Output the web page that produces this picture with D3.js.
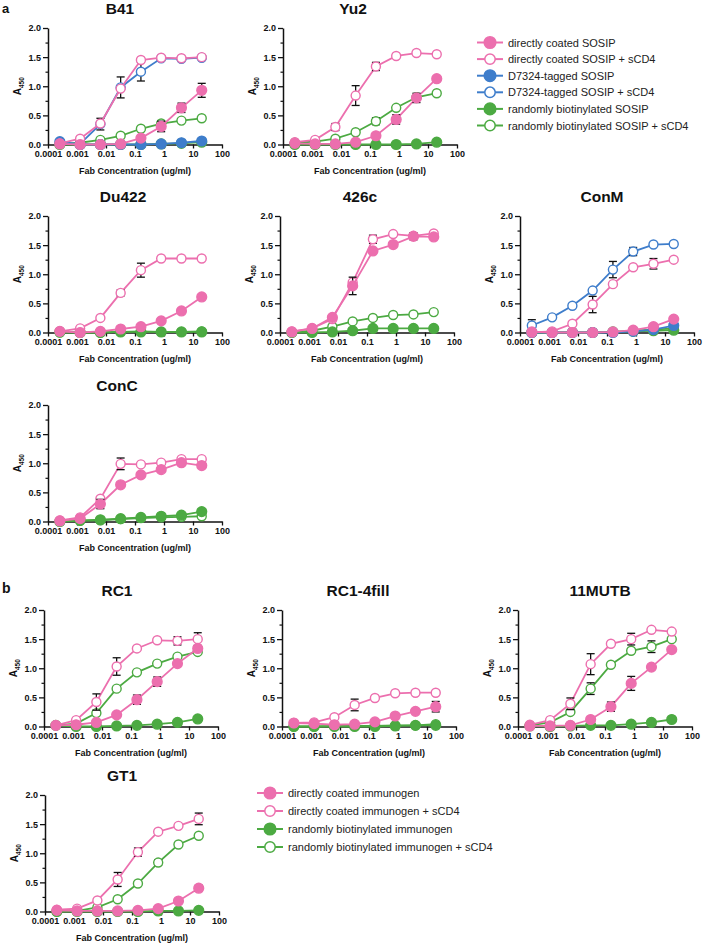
<!DOCTYPE html>
<html><head><meta charset="utf-8">
<script src="https://cdn.jsdelivr.net/npm/d3@7"></script>
<style>
body{margin:0;background:#fff}
svg{display:block}
text{font-family:"Liberation Sans",Arial,sans-serif}
</style>
</head><body><svg id="c" width="704" height="945"></svg>
<script>
// ---------- data ----------
const concentrations = [0.000256, 0.00128, 0.0064, 0.032, 0.16, 0.8, 4, 20];
const xTickValues = [0.0001, 0.001, 0.01, 0.1, 1, 10, 100];
const xTickLabels = ["0.0001", "0.001", "0.01", "0.1", "1", "10", "100"];
const yTickValues = [0, 0.5, 1.0, 1.5, 2.0];
const yMinorTicks = [0.25, 0.75, 1.25, 1.75];
const xAxisTitle = "Fab Concentration (ug/ml)";

const legendA = ["directly coated SOSIP", "directly coated SOSIP + sCD4", "D7324-tagged SOSIP", "D7324-tagged SOSIP + sCD4", "randomly biotinylated SOSIP", "randomly biotinylated SOSIP + sCD4"];
const legendB = ["directly coated immunogen", "directly coated immunogen + sCD4", "randomly biotinylated immunogen", "randomly biotinylated immunogen + sCD4"];
const seriesKeys = ["dc", "dcS", "tag", "tagS", "bio", "bioS"];

// B41
const B41_dc = [0.01, 0.00, 0.00, 0.01, 0.11, 0.31, 0.63, 0.93];
const B41_dc_err = [0, 0, 0, 0, 0, 0.09, 0.08, 0.12];
const B41_dcS = [0.02, 0.10, 0.36, 0.96, 1.45, 1.49, 1.48, 1.50];
const B41_tag = [0.05, 0.00, 0.00, 0.00, 0.00, 0.01, 0.03, 0.06];
const B41_tagS = [0.02, 0.01, 0.35, 0.98, 1.25, 1.48, 1.47, 1.49];
const B41_tagS_err = [0, 0, 0.10, 0.18, 0.16, 0, 0, 0];
const B41_bio = [0.00, 0.00, 0.00, 0.00, 0.00, 0.01, 0.02, 0.04];
const B41_bioS = [0.01, 0.03, 0.08, 0.15, 0.27, 0.36, 0.41, 0.45];
// Yu2
const Yu2_dc = [0.02, 0.01, 0.01, 0.04, 0.15, 0.43, 0.80, 1.13];
const Yu2_dc_err = [0, 0, 0, 0, 0, 0.08, 0.08, 0];
const Yu2_dcS = [0.04, 0.08, 0.30, 0.84, 1.34, 1.52, 1.57, 1.55];
const Yu2_dcS_err = [0, 0, 0.06, 0.17, 0.07, 0, 0, 0];
const Yu2_bio = [0.00, 0.00, 0.00, 0.00, 0.00, 0.00, 0.01, 0.04];
const Yu2_bioS = [0.03, 0.05, 0.10, 0.21, 0.40, 0.63, 0.81, 0.88];
const Yu2_bioS_err = [0, 0, 0, 0, 0.06, 0, 0, 0];
// Du422
const Du422_dc = [0.02, 0.00, 0.02, 0.06, 0.10, 0.20, 0.37, 0.61];
const Du422_dcS = [0.02, 0.07, 0.25, 0.68, 1.07, 1.27, 1.27, 1.27];
const Du422_dcS_err = [0, 0, 0, 0.05, 0.12, 0, 0, 0];
const Du422_bio = [0.01, 0.00, 0.00, 0.01, 0.01, 0.01, 0.01, 0.01];
const Du422_bioS = [0.00, 0.00, 0.00, 0.01, 0.02, 0.01, 0.01, 0.02];
// 426c
const c426_dc = [0.01, 0.07, 0.26, 0.80, 1.40, 1.51, 1.65, 1.64];
const c426_dc_err = [0, 0, 0, 0.15, 0, 0, 0.06, 0];
const c426_dcS = [0.02, 0.07, 0.23, 0.86, 1.60, 1.69, 1.66, 1.70];
const c426_dcS_err = [0, 0, 0, 0, 0.07, 0, 0, 0];
const c426_bio = [0.00, 0.00, 0.01, 0.03, 0.07, 0.07, 0.07, 0.07];
const c426_bioS = [0.00, 0.03, 0.10, 0.19, 0.25, 0.30, 0.31, 0.35];
// ConM
const ConM_dc = [0.01, 0.00, 0.00, 0.00, 0.01, 0.04, 0.10, 0.23];
const ConM_dcS = [0.00, 0.02, 0.15, 0.48, 0.83, 1.12, 1.18, 1.25];
const ConM_dcS_err = [0, 0, 0, 0.14, 0, 0, 0.09, 0];
const ConM_tag = [0.00, 0.00, 0.00, 0.00, 0.00, 0.02, 0.05, 0.12];
const ConM_tagS = [0.12, 0.26, 0.46, 0.72, 1.08, 1.39, 1.51, 1.52];
const ConM_tagS_err = [0.10, 0, 0, 0, 0.14, 0.07, 0, 0];
const ConM_bio = [0.00, 0.00, 0.00, 0.00, 0.01, 0.02, 0.03, 0.04];
const ConM_bioS = [0.00, 0.00, 0.00, 0.00, 0.01, 0.03, 0.05, 0.07];
// ConC
const ConC_dc = [0.01, 0.05, 0.30, 0.63, 0.80, 0.89, 1.01, 0.96];
const ConC_dc_err = [0, 0, 0.08, 0, 0, 0, 0, 0];
const ConC_dcS = [0.02, 0.07, 0.39, 0.99, 0.98, 1.01, 1.07, 1.07];
const ConC_dcS_err = [0, 0, 0, 0.10, 0, 0, 0, 0];
const ConC_bio = [0.00, 0.02, 0.03, 0.05, 0.07, 0.09, 0.11, 0.17];
const ConC_bioS = [0.00, 0.01, 0.02, 0.04, 0.06, 0.07, 0.08, 0.09];
// RC1
const RC1_dc = [0.02, 0.03, 0.07, 0.20, 0.46, 0.77, 1.08, 1.34];
const RC1_dc_err = [0, 0, 0, 0, 0.08, 0.08, 0, 0.05];
const RC1_dcS = [0.02, 0.11, 0.42, 1.03, 1.34, 1.48, 1.47, 1.50];
const RC1_dcS_err = [0, 0, 0.14, 0.15, 0, 0, 0.07, 0.11];
const RC1_bio = [0.02, 0.00, 0.00, 0.01, 0.02, 0.04, 0.07, 0.13];
const RC1_bioS = [0.02, 0.05, 0.23, 0.65, 0.93, 1.08, 1.20, 1.28];
// RC1-4fill
const RC14_dc = [0.06, 0.05, 0.03, 0.04, 0.08, 0.18, 0.26, 0.34];
const RC14_dc_err = [0, 0, 0, 0, 0, 0, 0, 0.09];
const RC14_dcS = [0.06, 0.07, 0.16, 0.37, 0.49, 0.57, 0.58, 0.58];
const RC14_dcS_err = [0, 0, 0, 0.10, 0, 0, 0, 0];
const RC14_bio = [0.00, 0.00, 0.00, 0.00, 0.00, 0.01, 0.02, 0.02];
const RC14_bioS = [0.00, 0.00, 0.01, 0.01, 0.01, 0.02, 0.02, 0.04];
// 11MUTB
const M11_dc = [0.01, 0.01, 0.02, 0.12, 0.34, 0.74, 1.02, 1.32];
const M11_dc_err = [0, 0, 0, 0, 0.08, 0.12, 0, 0];
const M11_dcS = [0.03, 0.11, 0.39, 1.07, 1.42, 1.50, 1.66, 1.63];
const M11_dcS_err = [0, 0, 0.10, 0.18, 0, 0.10, 0, 0];
const M11_bio = [0.01, 0.00, 0.01, 0.02, 0.02, 0.04, 0.07, 0.12];
const M11_bioS = [0.02, 0.07, 0.25, 0.65, 1.06, 1.30, 1.37, 1.50];
const M11_bioS_err = [0, 0, 0, 0.10, 0, 0, 0.10, 0];
// GT1
const GT1_dc = [0.02, 0.01, 0.01, 0.01, 0.02, 0.05, 0.18, 0.40];
const GT1_dc_err = [0, 0, 0, 0, 0, 0, 0, 0.05];
const GT1_dcS = [0.03, 0.05, 0.19, 0.55, 1.02, 1.37, 1.47, 1.59];
const GT1_dcS_err = [0, 0, 0, 0.12, 0.07, 0, 0, 0.10];
const GT1_bio = [0.00, 0.00, 0.00, 0.00, 0.00, 0.01, 0.01, 0.02];
const GT1_bioS = [0.00, 0.01, 0.07, 0.21, 0.48, 0.84, 1.15, 1.30];
const GT1_bioS_err = [0, 0, 0, 0, 0, 0.05, 0, 0];

// ---------- tables built from the arrays ----------
const panelData = {
  "B41": {dc:[B41_dc,B41_dc_err], dcS:[B41_dcS], tag:[B41_tag], tagS:[B41_tagS,B41_tagS_err], bio:[B41_bio], bioS:[B41_bioS]},
  "Yu2": {dc:[Yu2_dc,Yu2_dc_err], dcS:[Yu2_dcS,Yu2_dcS_err], bio:[Yu2_bio], bioS:[Yu2_bioS,Yu2_bioS_err]},
  "Du422": {dc:[Du422_dc], dcS:[Du422_dcS,Du422_dcS_err], bio:[Du422_bio], bioS:[Du422_bioS]},
  "426c": {dc:[c426_dc,c426_dc_err], dcS:[c426_dcS,c426_dcS_err], bio:[c426_bio], bioS:[c426_bioS]},
  "ConM": {dc:[ConM_dc], dcS:[ConM_dcS,ConM_dcS_err], tag:[ConM_tag], tagS:[ConM_tagS,ConM_tagS_err], bio:[ConM_bio], bioS:[ConM_bioS]},
  "ConC": {dc:[ConC_dc,ConC_dc_err], dcS:[ConC_dcS,ConC_dcS_err], bio:[ConC_bio], bioS:[ConC_bioS]},
  "RC1": {dc:[RC1_dc,RC1_dc_err], dcS:[RC1_dcS,RC1_dcS_err], bio:[RC1_bio], bioS:[RC1_bioS]},
  "RC1-4fill": {dc:[RC14_dc,RC14_dc_err], dcS:[RC14_dcS,RC14_dcS_err], bio:[RC14_bio], bioS:[RC14_bioS]},
  "11MUTB": {dc:[M11_dc,M11_dc_err], dcS:[M11_dcS,M11_dcS_err], bio:[M11_bio], bioS:[M11_bioS,M11_bioS_err]},
  "GT1": {dc:[GT1_dc,GT1_dc_err], dcS:[GT1_dcS,GT1_dcS_err], bio:[GT1_bio], bioS:[GT1_bioS,GT1_bioS_err]}
};

// ---------- style / layout ----------
const PINK = "#ec6fae", BLUE = "#3e7dcb", GREEN = "#4caa42";
const seriesStyle = {
  dc:{color:PINK, open:false}, dcS:{color:PINK, open:true},
  tag:{color:BLUE, open:false}, tagS:{color:BLUE, open:true},
  bio:{color:GREEN, open:false}, bioS:{color:GREEN, open:true}
};
const W = 174, H = 116.5;
const layout = [
  {name:"B41", x:48, y:28, tx:120},
  {name:"Yu2", x:283, y:28, tx:353},
  {name:"Du422", x:48, y:216, tx:123},
  {name:"426c", x:280, y:216, tx:360},
  {name:"ConM", x:520, y:216, tx:602},
  {name:"ConC", x:48, y:405, tx:117},
  {name:"RC1", x:44, y:610, tx:117},
  {name:"RC1-4fill", x:282, y:610, tx:358},
  {name:"11MUTB", x:518, y:610, tx:600},
  {name:"GT1", x:45, y:795, tx:122}
];

const svg = d3.select("#c");
svg.append("rect").attr("width",704).attr("height",945).attr("fill","#fff");

function drawPanel(p) {
  const data = panelData[p.name];
  const g = svg.append("g").attr("transform", `translate(${p.x},${p.y})`);
  const x = d3.scaleLog().domain([1e-4, 100]).range([0, W]);
  const y = d3.scaleLinear().domain([0, 2]).range([H, 0]);

  // title
  svg.append("text").attr("x", p.tx).attr("y", p.y - 14).attr("text-anchor","middle")
    .attr("font-size", 15.5).attr("font-weight","bold").attr("fill","#111").text(p.name);

  // y minor ticks
  g.append("g").call(d3.axisLeft(y).tickValues(yMinorTicks).tickSize(2.5).tickFormat(""))
    .call(s => { s.select(".domain").remove(); s.selectAll("line").attr("stroke","#111").attr("stroke-width",1.2); });
  // y axis
  g.append("g").call(d3.axisLeft(y).tickValues(yTickValues).tickFormat(d3.format(".1f")).tickSize(5).tickSizeOuter(0).tickPadding(2))
    .call(s => {
      s.select(".domain").attr("stroke","#111").attr("stroke-width",1.5);
      s.selectAll(".tick line").attr("stroke","#111").attr("stroke-width",1.3);
      s.selectAll("text").attr("font-size",9).attr("font-weight","bold").attr("fill","#111")
        .attr("font-family","'Liberation Sans',Arial,sans-serif");
    });
  // x axis
  g.append("g").attr("transform", `translate(0,${H})`)
    .call(d3.axisBottom(x).tickValues(xTickValues).tickFormat((d,i) => xTickLabels[i]).tickSize(4).tickSizeOuter(0).tickPadding(2.5))
    .call(s => {
      s.select(".domain").attr("stroke","#111").attr("stroke-width",1.5);
      s.selectAll(".tick line").attr("stroke","#111").attr("stroke-width",1.3);
      s.selectAll("text").attr("font-size",9).attr("font-weight","bold").attr("fill","#111")
        .attr("font-family","'Liberation Sans',Arial,sans-serif");
    });
  // axis titles
  g.append("text").attr("x", W/2).attr("y", H + 29).attr("text-anchor","middle")
    .attr("font-size", 9).attr("font-weight","bold").attr("fill","#111").text(xAxisTitle);
  const yl = g.append("text").attr("transform", `translate(-27,${H/2}) rotate(-90)`).attr("text-anchor","middle")
    .attr("font-weight","bold").attr("fill","#111");
  yl.append("tspan").attr("font-size", 10).text("A");
  yl.append("tspan").attr("font-size", 6.5).attr("dy", 3).text("450");

  // series, drawn so that the first legend entry ends up on top
  const order = seriesKeys.slice().reverse();
  order.forEach(k => {
    if (!data[k]) return;
    const vals = data[k][0], errs = data[k][1];
    const st = seriesStyle[k];
    const pts = concentrations.map((c,i) => ({c, v: vals[i], e: errs ? errs[i] : 0}));
    g.append("path").datum(pts)
      .attr("d", d3.line().x(d => x(d.c)).y(d => y(d.v)))
      .attr("fill","none").attr("stroke", st.color).attr("stroke-width", 1.8);
    const eb = g.append("g").selectAll("g").data(pts.filter(d => d.e > 0)).join("g")
      .attr("stroke","#111").attr("stroke-width",1.3);
    eb.append("line").attr("x1", d => x(d.c)).attr("x2", d => x(d.c))
      .attr("y1", d => y(d.v - d.e)).attr("y2", d => y(d.v + d.e));
    eb.append("line").attr("x1", d => x(d.c) - 4).attr("x2", d => x(d.c) + 4)
      .attr("y1", d => y(d.v - d.e)).attr("y2", d => y(d.v - d.e));
    eb.append("line").attr("x1", d => x(d.c) - 4).attr("x2", d => x(d.c) + 4)
      .attr("y1", d => y(d.v + d.e)).attr("y2", d => y(d.v + d.e));
    g.append("g").selectAll("circle").data(pts).join("circle")
      .attr("cx", d => x(d.c)).attr("cy", d => y(d.v))
      .attr("r", st.open ? 4.5 : 4.9)
      .attr("fill", st.open ? "#fff" : st.color)
      .attr("stroke", st.color).attr("stroke-width", 1.4);
  });
}
layout.forEach(drawPanel);

// section labels
svg.append("text").attr("x",2).attr("y",12.5).attr("font-size",13).attr("font-weight","bold").attr("fill","#111").text("a");
svg.append("text").attr("x",2).attr("y",593).attr("font-size",14).attr("font-weight","bold").attr("fill","#111").text("b");

// legends
function drawLegend(labels, keys, x0, y0, step) {
  const lg = svg.append("g");
  labels.forEach((lab, i) => {
    const st = seriesStyle[keys[i]];
    const yy = y0 + i * step;
    lg.append("line").attr("x1", x0).attr("x2", x0 + 26).attr("y1", yy).attr("y2", yy)
      .attr("stroke", st.color).attr("stroke-width", 2);
    lg.append("circle").attr("cx", x0 + 13).attr("cy", yy).attr("r", st.open ? 5.2 : 5.8)
      .attr("fill", st.open ? "#fff" : st.color).attr("stroke", st.color).attr("stroke-width", 1.5);
    lg.append("text").attr("x", x0 + 31).attr("y", yy + 4).attr("font-size", 11).attr("fill","#222").text(lab);
  });
}
drawLegend(legendA, seriesKeys, 477, 42.5, 16.6);
drawLegend(legendB, ["dc","dcS","bio","bioS"], 257, 793, 18);
</script></body></html>
